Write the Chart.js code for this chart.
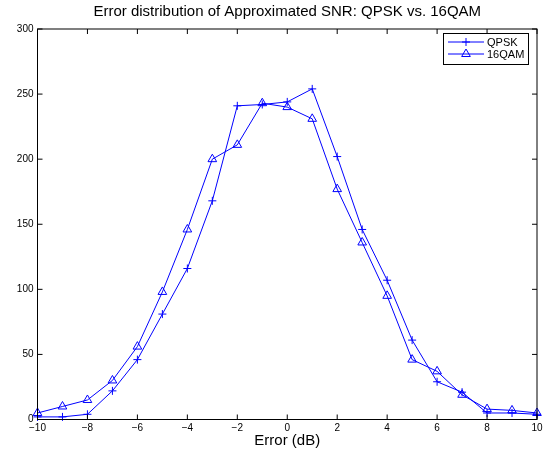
<!DOCTYPE html>
<html>
<head>
<meta charset="utf-8">
<script src="https://cdn.jsdelivr.net/npm/chart.js@4/dist/chart.umd.min.js"></script>
<style>
  html, body { margin: 0; padding: 0; background: #fff; }
  #wrap { width: 548px; height: 455px; }
</style>
</head>
<body>
<div id="wrap"><canvas id="errChart" width="548" height="455"></canvas></div>
<script>
// Data
const errorDb = [-10, -9, -8, -7, -6, -5, -4, -3, -2, -1, 0, 1, 2, 3, 4, 5, 6, 7, 8, 9, 10];
const qpsk = [2, 2, 4, 22, 46, 81, 116, 168, 241, 242, 244, 254, 202, 146, 107, 61, 29, 21, 5, 5, 4];
const qam16 = [5, 10, 15, 30, 56, 98, 146, 200, 211, 243, 240, 231, 177, 136, 95, 46, 37, 19, 8, 7, 5];
const seriesNames = ["QPSK", "16QAM"];
const titleText = "Error distribution of Approximated SNR: QPSK vs. 16QAM";
const xLabel = "Error (dB)";

const FONT = "Liberation Sans, Arial, Helvetica, sans-serif";

function toPoints(ys) {
  return errorDb.map(function (x, i) {
    return { x: x, y: ys[i] };
  });
}

function minusSign(v) {
  return String(v).replace("-", "\u2212");
}

// Box, inward ticks, title and legend in MATLAB style
const matlabFrame = {
  id: "matlabFrame",
  afterDraw: function (chart) {
    const ctx = chart.ctx;
    const a = chart.chartArea;
    const xs = chart.scales.x;
    const ys = chart.scales.y;
    const tl = 5;

    ctx.save();
    ctx.strokeStyle = "#000";
    ctx.lineWidth = 1;
    ctx.strokeRect(a.left, a.top, a.right - a.left, a.bottom - a.top);

    ctx.beginPath();
    xs.ticks.forEach(function (t) {
      const px = xs.getPixelForValue(t.value);
      ctx.moveTo(px, a.bottom);
      ctx.lineTo(px, a.bottom - tl);
      ctx.moveTo(px, a.top);
      ctx.lineTo(px, a.top + tl);
    });
    ys.ticks.forEach(function (t) {
      const py = ys.getPixelForValue(t.value);
      ctx.moveTo(a.left, py);
      ctx.lineTo(a.left + tl, py);
      ctx.moveTo(a.right, py);
      ctx.lineTo(a.right - tl, py);
    });
    ctx.stroke();

    // title
    ctx.fillStyle = "#000";
    ctx.font = "15px " + FONT;
    ctx.textAlign = "center";
    ctx.textBaseline = "middle";
    ctx.fillText(titleText, (a.left + a.right) / 2, 12);

    // legend
    const lx = 443, ly = 33, lw = 85, lh = 31;
    ctx.fillStyle = "#fff";
    ctx.fillRect(lx, ly, lw, lh);
    ctx.strokeRect(lx + 0.5, ly + 0.5, lw, lh);
    chart.data.datasets.forEach(function (ds, i) {
      const y = ly + 9 + i * 12;
      ctx.strokeStyle = ds.borderColor;
      ctx.lineWidth = ds.borderWidth;
      ctx.beginPath();
      ctx.moveTo(lx + 5, y);
      ctx.lineTo(lx + 41, y);
      ctx.stroke();
      ctx.fillStyle = "rgba(0,0,0,0)";
      Chart.helpers.drawPoint(ctx, {
        pointStyle: ds.pointStyle,
        radius: ds.pointRadius,
        borderWidth: 1,
        rotation: 0
      }, lx + 23, y);
      ctx.fillStyle = "#000";
      ctx.font = "11px " + FONT;
      ctx.textAlign = "left";
      ctx.fillText(ds.label, lx + 44, y + 0.5);
    });
    ctx.restore();
  }
};

function makeSet(label, ys, style, r) {
  return {
    label: label,
    data: toPoints(ys),
    borderColor: "#0000ff",
    backgroundColor: "rgba(0,0,0,0)",
    borderWidth: 1,
    pointStyle: style,
    pointRadius: r,
    pointBorderColor: "#0000ff",
    pointBackgroundColor: "rgba(0,0,0,0)",
    pointBorderWidth: 1,
    tension: 0,
    clip: false
  };
}

new Chart(document.getElementById("errChart").getContext("2d"), {
  type: "line",
  data: {
    datasets: [
      makeSet(seriesNames[0], qpsk, "cross", 4),
      makeSet(seriesNames[1], qam16, "triangle", 5)
    ]
  },
  options: {
    responsive: false,
    animation: false,
    layout: { padding: { top: 29, right: 11, left: 0, bottom: 0 } },
    plugins: {
      legend: { display: false },
      title: { display: false },
      tooltip: { enabled: false }
    },
    scales: {
      x: {
        type: "linear",
        min: -10,
        max: 10,
        afterFit: function (s) { s.height = 35.5; },
        grid: { display: false, drawTicks: false },
        border: { display: false },
        ticks: {
          stepSize: 2,
          padding: 3,
          color: "#000",
          font: { family: FONT, size: 10 },
          callback: function (v) { return minusSign(v); }
        },
        title: {
          display: true,
          text: xLabel,
          color: "#000",
          font: { family: FONT, size: 15 },
          padding: { top: 0, bottom: 5 }
        }
      },
      y: {
        min: 0,
        max: 300,
        afterFit: function (s) { s.width = 37.5; },
        grid: { display: false, drawTicks: false },
        border: { display: false },
        ticks: {
          stepSize: 50,
          padding: 4,
          color: "#000",
          font: { family: FONT, size: 10 }
        }
      }
    }
  },
  plugins: [matlabFrame]
});
</script>
</body>
</html>
